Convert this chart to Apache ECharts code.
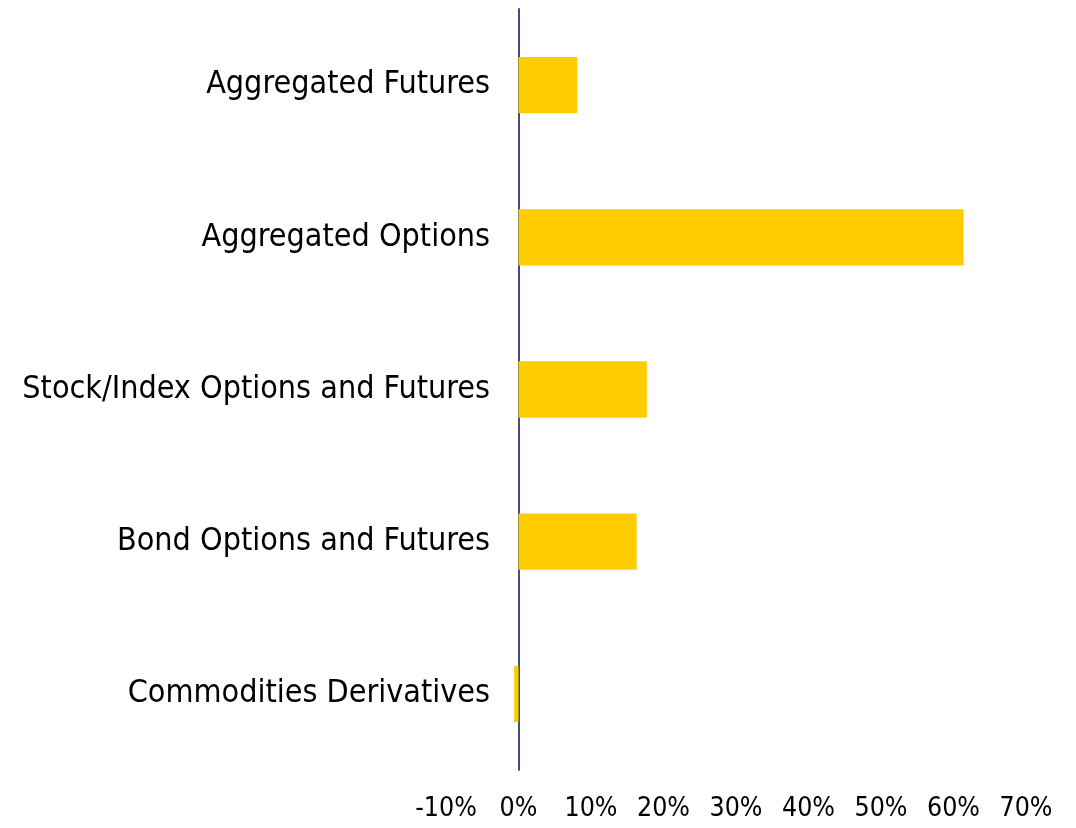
<!DOCTYPE html>
<html><head><meta charset="utf-8">
<script src="https://cdn.jsdelivr.net/npm/echarts@6/dist/echarts.min.js"></script>
<style>html,body{margin:0;padding:0;background:#fff}#c{width:1076px;height:828px}</style>
</head><body><div id="c"></div>
<script>
const categories = ["Aggregated Futures","Aggregated Options","Stock/Index Options and Futures","Bond Options and Futures","Commodities Derivatives"];
const values = [8.1, 61.4, 17.7, 16.3, -0.6];
const xTicks = [-10, 0, 10, 20, 30, 40, 50, 60, 70];
const chart = echarts.init(document.getElementById('c'));
const font = '"DejaVu Sans Condensed","DejaVu Sans",sans-serif';
chart.setOption({
  animation:false,
  grid:{left:446,right:50,top:9,bottom:58,containLabel:false},
  xAxis:{type:'value',min:xTicks[0],max:xTicks[xTicks.length-1],interval:10,
    axisLine:{show:false},axisTick:{show:false},splitLine:{show:false},
    axisLabel:{formatter:v=>v+'%',color:'#000',fontSize:26.5,fontFamily:font,margin:26}},
  yAxis:{type:'category',inverse:true,data:categories,
    axisLine:{onZero:true,lineStyle:{color:'#2f3a78',width:1.8}},axisTick:{show:false},
    axisLabel:{color:'#000',fontSize:32,fontFamily:font,margin:-44}},
  series:[{type:'bar',data:values,barWidth:'37%',itemStyle:{color:'#FFCC00'}}]
});
</script></body></html>
